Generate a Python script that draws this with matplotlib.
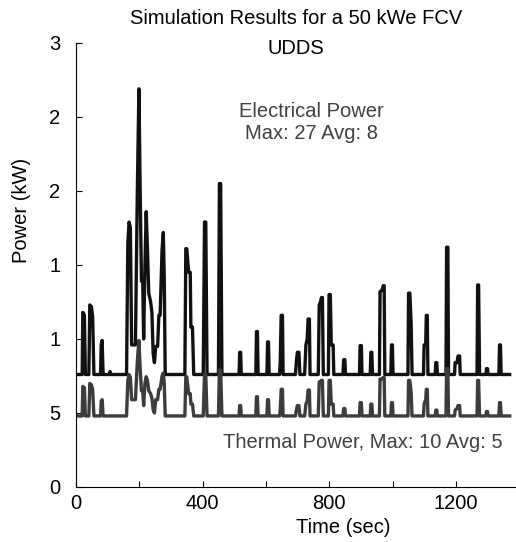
import numpy as np
from matplotlib import pyplot as plt

plt.rcParams['font.family'] = ['Liberation Sans', 'DejaVu Sans']

# Time vertices (sec) shared by both traces, one line per spike
time_s = [0,
          20, 22, 27, 30,
          41, 44, 49, 53, 57,
          78, 80, 83, 86,
          106, 108, 110,
          160, 164, 168, 172, 176, 183, 188, 194, 199, 203, 207, 211, 214, 218,
          222, 226, 230, 236, 240, 244, 248, 252, 258, 262, 266, 272, 276, 279, 282,
          344, 347, 350, 356, 361, 363, 368, 372,
          402, 406, 410, 414,
          450, 453, 457, 461,
          515, 517, 520, 522,
          568, 570, 573, 575,
          603, 605, 608, 610,
          643, 645, 648, 652, 654,
          693, 696, 699, 704, 707,
          722, 726, 730, 733, 737, 739,
          765, 768, 772, 775, 778, 781,
          797, 799, 803, 806, 812, 814,
          843, 845, 849, 851,
          895, 897, 901, 903,
          929, 931, 934, 936,
          958, 960, 966, 970, 973, 975,
          994, 996, 999, 1001,
          1048, 1050, 1054, 1058, 1061,
          1097, 1099, 1104, 1106, 1109, 1111,
          1134, 1136, 1139, 1141,
          1168, 1170, 1174, 1176,
          1195, 1197, 1203, 1206, 1211, 1213,
          1266, 1268, 1271, 1274,
          1294, 1296, 1299, 1301,
          1335, 1337, 1340, 1342,
          1369]

# Electrical power (kW)
elec_kw = [7.6,
           7.6, 11.8, 11.6, 7.6,
           7.6, 12.3, 12.2, 11.5, 7.6,
           7.6, 9.6, 9.9, 7.6,
           7.6, 7.8, 7.6,
           7.6, 16.5, 17.9, 17.5, 9.6, 9.6, 9.6, 20, 26.9, 20, 13.9, 13.9, 10, 15,
           18.6, 16, 13.1, 12.5, 11.8, 9, 8.4, 9.5, 9.5, 11.6, 11.6, 16, 17.2, 14, 7.6,
           7.6, 16.1, 16.1, 14.5, 14.5, 10.8, 10.8, 7.6,
           7.6, 17.9, 17.9, 7.6,
           7.6, 20.5, 20.5, 7.6,
           7.6, 9.1, 9.1, 7.6,
           7.6, 10.5, 10.5, 7.6,
           7.6, 9.8, 9.8, 7.6,
           7.6, 8.5, 11.6, 11.6, 7.6,
           7.6, 8.5, 9.1, 9.1, 7.6,
           7.6, 9.6, 10.0, 11.35, 11.35, 7.6,
           7.6, 12.3, 12.5, 12.8, 12.8, 7.6,
           7.6, 13.0, 13.0, 9.6, 9.6, 7.6,
           7.6, 8.6, 8.6, 7.6,
           7.6, 9.55, 9.55, 7.6,
           7.6, 9.1, 9.1, 7.6,
           7.6, 13.2, 13.3, 13.6, 13.6, 7.6,
           7.6, 9.6, 9.6, 7.6,
           7.6, 13.1, 13.1, 11.1, 7.6,
           7.6, 9.6, 9.6, 11.6, 11.6, 7.6,
           7.6, 8.4, 8.4, 7.6,
           7.6, 16.2, 16.2, 7.6,
           7.6, 8.4, 8.4, 8.85, 8.85, 7.6,
           7.6, 13.65, 13.65, 7.6,
           7.6, 8.0, 8.0, 7.6,
           7.6, 9.6, 9.6, 7.6,
           7.6]

# Thermal power (kW)
therm_kw = [4.8,
            4.8, 6.8, 6.7, 4.8,
            4.8, 7.0, 6.9, 6.6, 4.8,
            4.8, 5.8, 5.9, 4.8,
            4.8, 4.8, 4.8,
            4.8, 7.2, 7.6, 7.4, 5.9, 5.9, 5.9, 8.5, 9.9, 8, 6.5, 6.5, 5.5, 7,
            7.45, 7.2, 6.5, 6.3, 6.0, 5.2, 5.0, 5.9, 5.9, 6.6, 6.6, 7.5, 7.7, 7, 4.8,
            4.8, 7.45, 7.45, 6.3, 6.3, 5.6, 5.6, 4.8,
            4.8, 7.6, 7.6, 4.8,
            4.8, 7.9, 7.9, 4.8,
            4.8, 5.5, 5.5, 4.8,
            4.8, 6.1, 6.1, 4.8,
            4.8, 5.9, 5.9, 4.8,
            4.8, 5.2, 6.6, 6.6, 4.8,
            4.8, 5.2, 5.5, 5.5, 4.8,
            4.8, 5.6, 5.8, 6.55, 6.55, 4.8,
            4.8, 7.1, 7.1, 7.2, 7.2, 4.8,
            4.8, 7.2, 7.2, 5.6, 5.6, 4.8,
            4.8, 5.3, 5.3, 4.8,
            4.8, 5.7, 5.7, 4.8,
            4.8, 5.6, 5.6, 4.8,
            4.8, 7.3, 7.3, 7.4, 7.4, 4.8,
            4.8, 5.7, 5.7, 4.8,
            4.8, 7.2, 7.2, 6.4, 4.8,
            4.8, 5.6, 5.9, 6.6, 6.6, 4.8,
            4.8, 5.2, 5.2, 4.8,
            4.8, 8.0, 8.0, 4.8,
            4.8, 5.2, 5.3, 5.5, 5.5, 4.8,
            4.8, 7.2, 7.2, 4.8,
            4.8, 5.1, 5.1, 4.8,
            4.8, 5.7, 5.7, 4.8,
            4.8]

y_ticks = [0, 5, 10, 15, 20, 25, 30]
y_tick_labels = ["0", "5", "1", "1", "2", "2", "3"]
x_ticks = [0, 200, 400, 600, 800, 1000, 1200]
x_tick_labels = ["0", "", "400", "", "800", "", "1200"]

fs = 14.5
fig = plt.figure(figsize=(5.16, 5.42), dpi=100)
ax = fig.add_axes([0.147, 0.1015, 0.853, 0.8192])

ax.plot(time_s, elec_kw, color='#111111', lw=2.4, solid_joinstyle='round')
ax.plot(time_s, therm_kw, color='#3c3c3c', lw=2.4, solid_joinstyle='round')

ax.set_xlim(0, 1389)
ax.set_ylim(0, 30)
ax.set_xticks(x_ticks)
ax.set_xticklabels(x_tick_labels, fontsize=fs)
ax.set_yticks(y_ticks)
ax.set_yticklabels(y_tick_labels, fontsize=fs)
ax.tick_params(direction='in', length=4, width=0.8)
ax.tick_params(axis='x', pad=5)
ax.tick_params(axis='y', pad=11)
for s in ['top', 'right']:
    ax.spines[s].set_visible(False)
ax.spines['left'].set_linewidth(0.8)
ax.spines['bottom'].set_linewidth(0.8)

fig.text(0.665, 0.026, "Time (sec)", ha='center', va='center', fontsize=fs)
fig.text(0.041, 0.6125, "Power (kW)", ha='center', va='center', rotation=90, fontsize=fs)

fig.text(0.574, 0.965, "Simulation Results for a 50 kWe FCV", ha='center', va='center', fontsize=fs)
fig.text(0.574, 0.911, "UDDS", ha='center', va='center', fontsize=fs)
fig.text(0.604, 0.774, "Electrical Power\nMax: 27 Avg: 8", ha='center', va='center',
         fontsize=fs, color='#404040')
fig.text(0.704, 0.1845, "Thermal Power, Max: 10 Avg: 5", ha='center', va='center',
         fontsize=fs, color='#404040')

fig.savefig("out.png", dpi=100)
